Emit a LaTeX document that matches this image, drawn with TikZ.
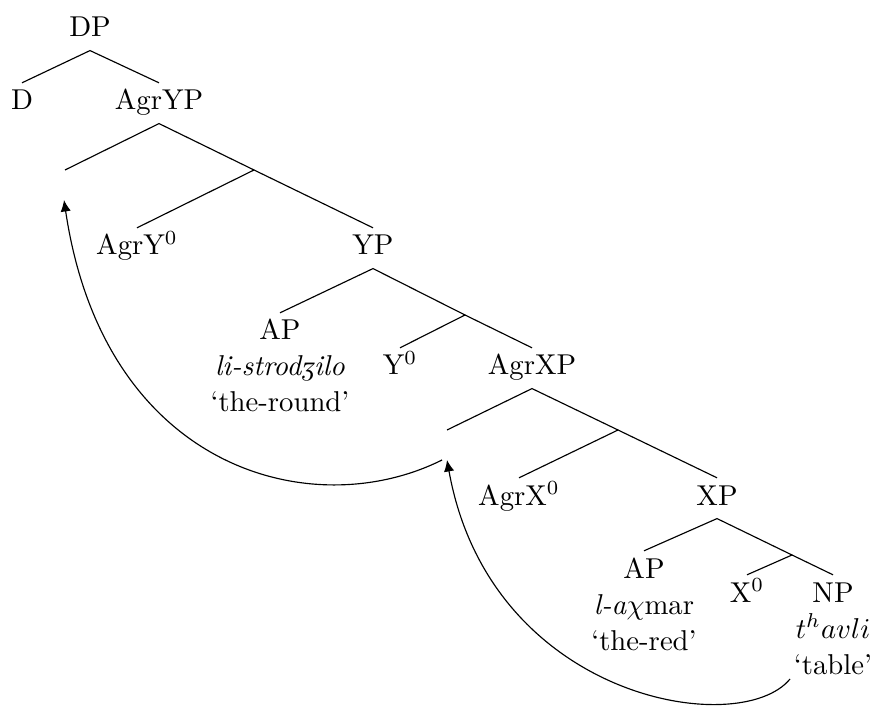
\documentclass[tikz,border=0pt]{standalone}
\usepackage{tipa}
\usetikzlibrary{arrows.meta}
\begin{document}
\begin{tikzpicture}[x=0.3484pt, y=-0.3484pt,
  lab/.style={anchor=base, inner xsep=0pt, inner ysep=2.44pt,
    text height=6.83pt, text depth=2.09pt},
  gloss/.style={anchor=base, inner sep=0pt},
  br/.style={line width=0.4pt},
  mv/.style={line width=0.4pt, -{Latex[length=4pt,width=3.6pt]}}]
\useasboundingbox (0,0) rectangle (872,706);
% labels
\node[lab] (DP) at (90,37) {DP};
\node[lab] (D) at (22,110) {D};
\node[lab] (AgrYP) at (159,110) {AgrYP};
\coordinate (E1) at (65,170);
\coordinate (B1) at (254,170);
\node[lab] (AgrY0) at (137,255) {AgrY$^0$};
\node[lab] (YP) at (373,255) {YP};
\node[lab] (AP1) at (280,340) {AP};
\node[gloss] (AP1a) at (280,376) {\textit{li-strod\textipa{\fontfamily{cmr}\selectfont Z}ilo}};
\node[gloss] (AP1b) at (280,412) {`the-round'};
\coordinate (B2) at (465,315);
\node[lab] (Y0) at (400,375) {Y$^0$};
\node[lab] (AgrXP) at (532,375) {AgrXP};
\coordinate (E2) at (447,430);
\coordinate (B3) at (618,430);
\node[lab] (AgrX0) at (519,505) {AgrX$^0$};
\node[lab] (XP) at (717,505) {XP};
\node[lab] (AP2) at (644,578) {AP};
\node[gloss] (AP2a) at (644,614) {\textit{l-a}$\chi$mar};
\node[gloss] (AP2b) at (644,650) {`the-red'};
\coordinate (B4) at (792,555);
\node[lab] (X0) at (747,602) {X$^0$};
\node[lab] (NP) at (833,602) {NP};
\node[gloss] (NPa) at (833,638) {$t^havli$};
\node[gloss] (NPb) at (833,674) {`table'};
% branches
\draw[br] (D.north) -- (DP.south) -- (AgrYP.north);
\draw[br] (E1) -- (AgrYP.south) -- (B1);
\draw[br] (AgrY0.north) -- (B1) -- (YP.north);
\draw[br] (AP1.north) -- (YP.south) -- (B2);
\draw[br] (Y0.north) -- (B2) -- (AgrXP.north);
\draw[br] (E2) -- (AgrXP.south) -- (B3);
\draw[br] (AgrX0.north) -- (B3) -- (XP.north);
\draw[br] (AP2.north) -- (XP.south) -- (B4);
\draw[br] (X0.north) -- (B4) -- (NP.north);
% movement arrows
\coordinate (T1) at (64,200);
\coordinate (S1) at (442,460);
\coordinate (T2) at (447,460);
\coordinate (S2) at (790,679);
\draw[mv] (S1) .. controls (312,525) and (104,470) .. (T1);
\draw[mv] (S2) .. controls (740,740) and (490,700) .. (T2);
\end{tikzpicture}
\end{document}
